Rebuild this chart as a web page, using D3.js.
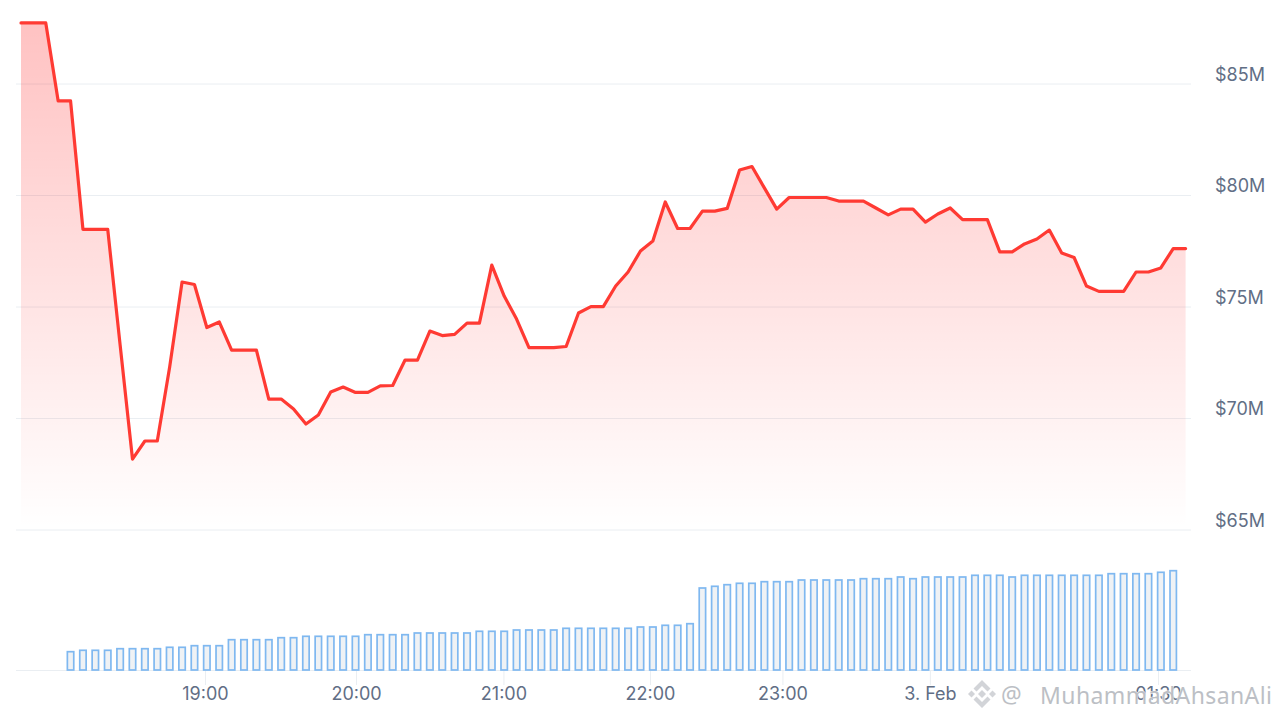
<!DOCTYPE html>
<html>
<head>
<meta charset="utf-8">
<script src="https://cdn.jsdelivr.net/npm/d3@7"></script>
<style>
    html, body { margin: 0; background: #fff; }
    svg { display: block; }
    svg text { font-family: Inter, "Noto Sans", sans-serif; }
</style>
</head>
<body>
<div id="vis"></div>
<script>
// market cap in $M, one sample per step
const priceValues = [
    87.74, 87.74, 87.74, 84.24, 84.24, 78.48, 78.48, 78.48, 73.30, 68.18,
    68.99, 68.99, 72.31, 76.12, 76.01, 74.08, 74.33, 73.07, 73.07, 73.07,
    70.87, 70.87, 70.43, 69.75, 70.16, 71.19, 71.41, 71.17, 71.17, 71.46,
    71.48, 72.62, 72.62, 73.92, 73.72, 73.77, 74.28, 74.28, 76.88, 75.49,
    74.46, 73.18, 73.18, 73.18, 73.23, 74.73, 75.02, 75.02, 75.94, 76.57,
    77.51, 77.96, 79.71, 78.52, 78.52, 79.30, 79.30, 79.42, 81.14, 81.30,
    80.34, 79.39, 79.91, 79.91, 79.91, 79.91, 79.75, 79.75, 79.75, 79.44,
    79.13, 79.39, 79.39, 78.81, 79.17, 79.44, 78.92, 78.92, 78.92, 77.47,
    77.47, 77.83, 78.05, 78.45, 77.42, 77.22, 75.94, 75.70, 75.70, 75.70,
    76.57, 76.57, 76.75, 77.62, 77.62
];

// volume bars start at sample 4 and stop one sample before the line ends
const volumeStart = 4;
const volumeValues = [
    18.3, 19.7, 19.7, 19.7, 21.3, 21.3, 21.3, 21.3, 22.7, 22.7,
    24.3, 24.3, 24.3, 30.3, 30.3, 30.3, 30.3, 32.3, 32.3, 33.7,
    33.7, 33.7, 33.7, 33.7, 35.3, 35.3, 35.3, 35.3, 37, 37,
    37, 37, 37, 38.7, 38.7, 38.7, 40, 40, 40, 40,
    41.7, 41.7, 41.7, 41.7, 41.7, 41.7, 43, 43, 44.7, 44.7,
    46.3, 82, 83.7, 85.3, 86.7, 86.7, 88.3, 88.3, 88.3, 90,
    90, 90, 90, 90, 91.3, 91.3, 91.3, 93, 91.3, 93,
    93, 93, 93, 94.7, 94.7, 94.7, 93, 94.7, 94.7, 94.7,
    94.7, 94.7, 94.7, 94.7, 96.3, 96.3, 96.3, 96.3, 97.7, 99.3
];

const priceTicks = [65, 70, 75, 80, 85];
const timeTickSamples = [14.85, 27.04, 38.94, 50.77, 61.46, 73.36, 91.77];
const timeTickLabels = ["19:00", "20:00", "21:00", "22:00", "23:00", "3. Feb", "01:30"];

const gridColor = "#eaeef2";
const labelColor = "#616e85";

const svg = d3.select("#vis").append("svg")
    .attr("width", 1280)
    .attr("height", 720);

const x = d3.scaleLinear().domain([0, priceValues.length - 1]).range([21, 1185.6]);
const y = d3.scaleLinear().domain([65, 85]).range([530, 84]);
const yVolume = d3.scaleLinear().domain([0, 100]).range([670, 570]);

const defs = svg.append("defs");
const gradient = defs.append("linearGradient")
    .attr("id", "area-fill")
    .attr("gradientUnits", "userSpaceOnUse")
    .attr("x1", 0).attr("x2", 0)
    .attr("y1", y(priceValues[0]))
    .attr("y2", 528);
gradient.append("stop").attr("offset", 0).attr("stop-color", "#ff0000").attr("stop-opacity", 0.24);
gradient.append("stop").attr("offset", 1).attr("stop-color", "#ff0000").attr("stop-opacity", 0);

// price axis, the ticks double as gridlines
const yAxis = svg.append("g")
    .attr("transform", "translate(1191,-0.5)")
    .call(d3.axisRight(y)
        .tickValues(priceTicks)
        .tickSize(-1175)
        .tickPadding(24)
        .tickFormat(d => `$${d}M`));
yAxis.select(".domain").remove();
yAxis.selectAll("line").attr("stroke", gridColor);
yAxis.selectAll("text")
    .attr("y", -9)
    .attr("fill", labelColor)
    .style("font-size", "18px");

// time axis
const xAxis = svg.append("g")
    .attr("transform", `translate(0,${yVolume(0)})`)
    .call(d3.axisBottom(x)
        .tickValues(timeTickSamples)
        .tickSize(15)
        .tickPadding(0)
        .tickFormat((d, i) => timeTickLabels[i]));
xAxis.select(".domain").remove();
xAxis.selectAll("line").attr("stroke", gridColor);
xAxis.selectAll("text")
    .attr("y", 24)
    .attr("dy", "0.32em")
    .attr("fill", labelColor)
    .style("font-size", "18px");

svg.append("line")
    .attr("x1", 16).attr("x2", 1191)
    .attr("y1", yVolume(0) + 0.5).attr("y2", yVolume(0) + 0.5)
    .attr("stroke", gridColor);

// volume bars
svg.selectAll("rect.bar")
    .data(volumeValues)
    .enter()
    .append("rect")
    .attr("class", "bar")
    .attr("x", (d, i) => x(i + volumeStart) - 3.2)
    .attr("y", d => yVolume(d))
    .attr("width", 6.4)
    .attr("height", d => yVolume(0) - yVolume(d))
    .attr("fill", "#eff2f5")
    .attr("stroke", "#7fb8f0")
    .attr("stroke-width", 1.7);

// price area and line
const area = d3.area()
    .x((d, i) => x(i))
    .y0(y(65))
    .y1(d => y(d));

const line = d3.line()
    .x((d, i) => x(i))
    .y(d => y(d));

svg.append("path")
    .datum(priceValues)
    .attr("fill", "url(#area-fill)")
    .attr("d", area);

svg.append("path")
    .datum(priceValues)
    .attr("fill", "none")
    .attr("stroke", "#ff3a33")
    .attr("stroke-width", 3.2)
    .attr("stroke-linejoin", "round")
    .attr("stroke-linecap", "round")
    .attr("d", line);

// watermark over the last tick label
const mark = svg.append("g")
    .attr("fill", "#bcbfc5")
    .attr("stroke", "#fff")
    .attr("stroke-width", 0.8)
    .attr("paint-order", "stroke");

const logo = mark.append("g")
    .attr("transform", "translate(982,694)")
    .attr("fill", "#d2d4d8");
logo.append("path").attr("d", "M0,-4 L4,0 L0,4 L-4,0 Z");
logo.append("path").attr("d", "M-14,0 L-10.5,-3.5 L-7,0 L-10.5,3.5 Z");
logo.append("path").attr("d", "M14,0 L10.5,-3.5 L7,0 L10.5,3.5 Z");
logo.append("path").attr("d", "M0,-14 L8.5,-5.5 L5.5,-2.5 L0,-8 L-5.5,-2.5 L-8.5,-5.5 Z");
logo.append("path").attr("d", "M0,14 L8.5,5.5 L5.5,2.5 L0,8 L-5.5,2.5 L-8.5,5.5 Z");

mark.append("text")
    .attr("x", 1001)
    .attr("y", 703)
    .style("font-size", "23px")
    .style("font-family", "'Noto Sans', sans-serif")
    .text("@");

mark.append("text")
    .attr("x", 1040)
    .attr("y", 704)
    .style("font-size", "23px")
    .style("font-family", "'Noto Sans', sans-serif")
    .attr("textLength", 232)
    .text("MuhammadAhsanAli");
</script>
</body>
</html>
